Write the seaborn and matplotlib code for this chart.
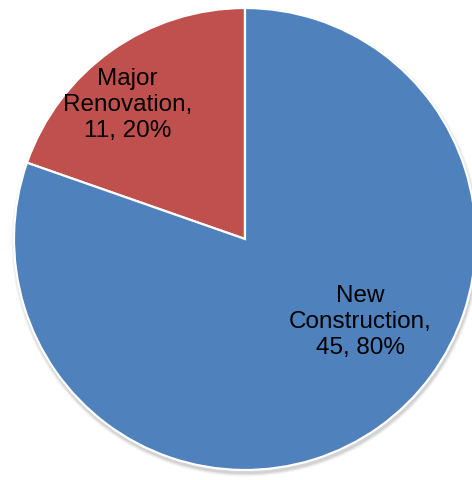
import matplotlib
matplotlib.use("Agg")
import matplotlib.pyplot as plt
from matplotlib.patches import Circle
import seaborn as sns

# data
categories = ['Major Renovation', 'New Construction']
counts = [11, 45]
label_lines = ['Major\nRenovation,', 'New\nConstruction,']
colors = ['#C0504D', '#4F81BD']

sns.set_style('white')
plt.rcParams['font.family'] = ['Liberation Sans', 'DejaVu Sans']

fig = plt.figure(figsize=(4.72, 4.81), dpi=100)
ax = fig.add_axes([0, 0, 1, 1])

# soft shadow under the pie, mostly toward the bottom
for i, a in enumerate([0.04, 0.06, 0.08]):
    r = 1.0 + 0.005 * (3 - i)
    ax.add_patch(Circle((0.004, -0.013), r, color='black', alpha=a, lw=0, zorder=0))

total = sum(counts)
wedges, _ = ax.pie(counts, colors=colors, startangle=90, counterclock=True,
                   radius=1.0, wedgeprops=dict(edgecolor='white', linewidth=1.6))
for w in wedges:
    w.set_zorder(2)

label_pos = [(0.27, 0.782), (0.763, 0.33)]
for name, n, (x, y) in zip(label_lines, counts, label_pos):
    pct = round(100 * n / total)
    ax.text(x, y, f'{name}\n{n}, {pct}%', transform=ax.transAxes,
            ha='center', va='center', fontsize=17.5, color='black',
            linespacing=1.23, zorder=5)

ax.set_xlim(-245 / 231, (472 - 245) / 231)
ax.set_ylim(-241 / 231, 240 / 231)
ax.set_aspect('auto')
ax.axis('off')

fig.savefig('out.png', dpi=100, facecolor='white')
